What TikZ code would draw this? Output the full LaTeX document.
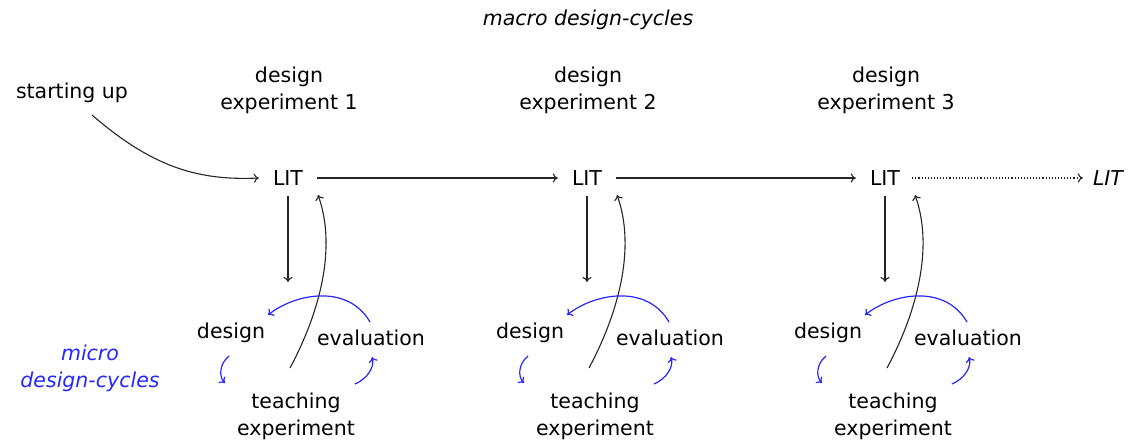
\documentclass[tikz,border=0pt]{standalone}
\usetikzlibrary{arrows.meta}
\usepackage{fontspec}
\setmainfont{DejaVu Sans}
\begin{document}
\begin{tikzpicture}[x=1pt,y=-1pt,
  lbl/.style={inner sep=0pt,font=\fontsize{20.5}{27}\selectfont,align=center},
  conn/.style={line width=1.1pt,-{To[length=5pt,width=9pt]},black!85},
  bconn/.style={line width=1.2pt,-{To[length=5pt,width=9pt]},blue!85!white}]
\useasboundingbox (0,0) rectangle (1128,444);
\node[lbl,font=\fontsize{20.5}{27}\selectfont\itshape] (macro) at (588,20) {macro design-cycles};
\node[lbl] (start) at (72,93) {starting up};
\node[lbl,font=\fontsize{20.5}{27}\selectfont\itshape,text=blue!85!white] (micro) at (90,368) {micro\\design-cycles};
\foreach \i/\dx in {1/0,2/299,3/597}{
  \begin{scope}[xshift=\dx pt]
  \node[lbl] (head\i) at (289,90) {design\\experiment \i};
  \node[lbl] (lit\i) at (288,178) {LIT};
  \node[lbl] (des\i) at (231,333) {design};
  \node[lbl] (eva\i) at (371,338) {evaluation};
  \node[lbl] (tea\i) at (296,416) {teaching\\experiment};
  \coordinate (dtop\i) at (288,196);
  \coordinate (dbot\i) at (288,282);
  \coordinate (ustart\i) at (290,368);
  \coordinate (uend\i) at (318,195);
  \coordinate (ba\i) at (370,322);
  \coordinate (bb\i) at (268,315);
  \coordinate (lc\i) at (229,356);
  \coordinate (ld\i) at (225,383);
  \coordinate (re\i) at (355,384);
  \coordinate (rf\i) at (372,357);
  \end{scope}
  \draw[conn] (dtop\i) -- (dbot\i);
  \draw[conn] (ustart\i) .. controls ([shift={(32,-60)}]ustart\i) and ([shift={(18,50)}]uend\i) .. (uend\i);
  \draw[bconn] (ba\i) .. controls ([shift={(-22,-38)}]ba\i) and ([shift={(28,-22)}]bb\i) .. (bb\i);
  \draw[bconn] (lc\i) .. controls ([shift={(-10,8)}]lc\i) and ([shift={(-6,-6)}]ld\i) .. (ld\i);
  \draw[bconn] (re\i) .. controls ([shift={(12,-5)}]re\i) and ([shift={(3,10)}]rf\i) .. (rf\i);
}
\node[lbl,font=\fontsize{20.5}{27}\selectfont\itshape] (litend) at (1108,178) {LIT};
\coordinate (sstart) at (92,115);
\draw[conn] (sstart) .. controls (150,165) and (195,181) .. ([xshift=-14pt]lit1.west);
\draw[conn] ([xshift=14pt]lit1.east) -- ([xshift=-14pt]lit2.west);
\draw[conn] ([xshift=14pt]lit2.east) -- ([xshift=-14pt]lit3.west);
\draw[conn,dotted] ([xshift=12pt]lit3.east) -- ([xshift=-10pt]litend.west);
\end{tikzpicture}
\end{document}
